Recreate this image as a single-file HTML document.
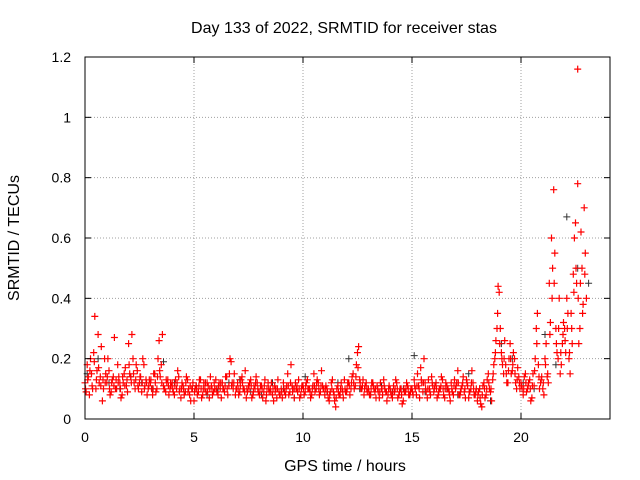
<!DOCTYPE html>
<html><head><meta charset="utf-8"><style>
body{margin:0;background:#fff}
svg{display:block;font-family:"Liberation Sans",sans-serif}
</style></head><body>
<svg id="c" width="640" height="480" viewBox="0 0 640 480">
<rect width="640" height="480" fill="#fff"/>
<g id="grid"></g>
<g id="black"></g>
<g id="red"></g>
<g id="axes"></g>
<text x="344" y="33" text-anchor="middle" font-size="16">Day 133 of 2022, SRMTID for receiver stas</text>
<text x="345" y="471" text-anchor="middle" font-size="16">GPS time / hours</text>
<text transform="translate(19,238) rotate(-90)" text-anchor="middle" font-size="16">SRMTID / TECUs</text>
</svg>
<script>
const xTicks=[0,5,10,15,20];
const yTicks=[0,0.2,0.4,0.6,0.8,1,1.2];
const yTickLabels=["0","0.2","0.4","0.6","0.8","1","1.2"];
const redA=[0.12,0.18,0.08,0.15,0.22,0.1,0.28,0.14,0.06,0.2,
0.12,0.16,0.09,0.14,0.1,0.18,0.12,0.08,0.15,0.11,
0.25,0.14,0.2,0.1,0.16,0.12,0.09,0.18,0.13,0.1,
0.12,0.08,0.15,0.1,0.26,0.18,0.11,0.09,0.13,0.1,
0.12,0.08,0.1,0.14,0.07,0.11,0.09,0.13,0.08,0.1,
0.06,0.11,0.09,0.13,0.08,0.1,0.12,0.07,0.11,0.09,
0.13,0.08,0.1,0.12,0.09,0.14,0.11,0.19,0.1,0.08,
0.12,0.09,0.14,0.1,0.07,0.11,0.13,0.08,0.1,0.12,
0.08,0.11,0.09,0.06,0.12,0.1,0.08,0.11,0.07,0.09,
0.1,0.12,0.08,0.15,0.09,0.11,0.07,0.1,0.13,0.08,
0.11,0.09,0.13,0.1,0.08,0.15,0.1,0.12,0.09,0.11,
0.08,0.1,0.06,0.12,0.09,0.04,0.11,0.08,0.1,0.13,
0.09,0.12,0.1,0.15,0.11,0.22,0.13,0.1,0.08,0.12,
0.1,0.08,0.12,0.09,0.11,0.07,0.1,0.13,0.09,0.08,
0.1,0.07,0.09,0.12,0.08,0.1,0.06,0.09,0.11,0.08,
0.1,0.13,0.08,0.11,0.17,0.09,0.12,0.07,0.1,0.14,
0.09,0.12,0.08,0.1,0.13,0.07,0.11,0.09,0.12,0.08,
0.1,0.16,0.08,0.11,0.09,0.13,0.07,0.1,0.12,0.08,
0.06,0.1,0.04,0.12,0.08,0.15,0.09,0.13,0.2,0.3,
0.42,0.22,0.15,0.18,0.12,0.25,0.16,0.2,0.1,0.14,
0.12,0.08,0.15,0.1,0.13,0.07,0.11,0.3,0.18,0.12,
0.1,0.2,0.14,0.45,0.6,0.76,0.3,0.2,0.15,0.25,
0.3,0.4,0.2,0.35,0.48,0.65,0.78,0.3,0.5,0.7,0.4];
const redB=[0.09,0.14,0.2,0.1,0.34,0.16,0.12,0.24,0.1,0.15,
0.2,0.08,0.13,0.27,0.1,0.14,0.07,0.12,0.17,0.09,
0.15,0.28,0.12,0.18,0.1,0.14,0.2,0.11,0.08,0.13,
0.1,0.15,0.09,0.2,0.14,0.28,0.1,0.12,0.08,0.11,
0.09,0.13,0.16,0.1,0.12,0.08,0.14,0.1,0.06,0.12,
0.1,0.08,0.13,0.07,0.12,0.09,0.11,0.14,0.08,0.1,
0.09,0.12,0.07,0.1,0.14,0.08,0.2,0.12,0.15,0.1,
0.08,0.13,0.1,0.16,0.09,0.12,0.07,0.11,0.14,0.09,
0.11,0.07,0.13,0.1,0.09,0.12,0.06,0.1,0.13,0.08,
0.07,0.09,0.11,0.08,0.18,0.1,0.12,0.09,0.07,0.11,
0.08,0.12,0.1,0.07,0.11,0.09,0.13,0.08,0.16,0.1,
0.11,0.07,0.09,0.13,0.06,0.1,0.08,0.12,0.07,0.09,
0.12,0.08,0.14,0.1,0.18,0.24,0.1,0.13,0.11,0.09,
0.08,0.12,0.1,0.07,0.09,0.12,0.08,0.1,0.06,0.11,
0.08,0.11,0.13,0.07,0.1,0.05,0.09,0.12,0.08,0.1,
0.08,0.1,0.15,0.07,0.12,0.2,0.09,0.13,0.08,0.11,
0.11,0.07,0.1,0.14,0.08,0.12,0.1,0.06,0.09,0.13,
0.12,0.08,0.1,0.14,0.07,0.11,0.09,0.16,0.08,0.1,
0.09,0.05,0.11,0.07,0.13,0.1,0.06,0.18,0.26,0.44,
0.3,0.18,0.26,0.12,0.2,0.15,0.22,0.12,0.17,0.1,
0.1,0.14,0.09,0.12,0.06,0.15,0.2,0.35,0.1,0.14,
0.08,0.25,0.12,0.32,0.5,0.55,0.22,0.4,0.18,0.32,
0.22,0.35,0.15,0.25,0.6,0.45,0.25,0.62,0.38,0.55];
const redC=[0.1,0.13,0.16,0.11,0.19,0.13,0.17,0.11,0.13,0.12,
0.14,0.1,0.12,0.11,0.13,0.12,0.1,0.14,0.11,0.13,
0.18,0.12,0.15,0.13,0.11,0.14,0.12,0.1,0.12,0.11,
0.13,0.1,0.12,0.14,0.16,0.12,0.1,0.13,0.11,0.12,
0.1,0.11,0.12,0.09,0.1,0.1,0.12,0.09,0.11,0.1,
0.09,0.1,0.11,0.1,0.1,0.12,0.09,0.1,0.1,0.12,
0.1,0.11,0.12,0.1,0.11,0.1,0.15,0.11,0.12,0.1,
0.1,0.11,0.12,0.09,0.1,0.1,0.11,0.09,0.12,0.1,
0.09,0.1,0.11,0.08,0.1,0.09,0.1,0.09,0.1,0.08,
0.09,0.1,0.1,0.11,0.12,0.09,0.1,0.11,0.1,0.1,
0.1,0.11,0.1,0.09,0.1,0.11,0.12,0.1,0.11,0.1,
0.1,0.09,0.08,0.1,0.08,0.07,0.09,0.1,0.09,0.1,
0.1,0.11,0.12,0.12,0.14,0.17,0.12,0.11,0.1,0.1,
0.09,0.1,0.11,0.1,0.1,0.09,0.1,0.11,0.09,0.1,
0.09,0.09,0.1,0.1,0.09,0.08,0.1,0.1,0.1,0.09,
0.09,0.11,0.11,0.1,0.13,0.12,0.1,0.1,0.09,0.12,
0.1,0.1,0.09,0.11,0.1,0.1,0.1,0.08,0.1,0.11,
0.11,0.12,0.09,0.12,0.1,0.12,0.09,0.12,0.1,0.09,
0.08,0.07,0.08,0.1,0.1,0.12,0.1,0.15,0.22,0.35,
0.25,0.2,0.2,0.15,0.16,0.2,0.18,0.15,0.13,0.12,
0.11,0.1,0.12,0.11,0.1,0.11,0.16,0.25,0.14,0.13,
0.12,0.18,0.15,0.28,0.4,0.45,0.25,0.3,0.22,0.28,
0.26,0.3,0.22,0.3,0.42,0.5,0.4,0.45,0.35,0.48];
const blackV=[0.15,0.2,0.12,0.1,0.14,0.12,0.1,0.19,0.12,0.09,0.11,0.08,0.1,0.12,0.13,0.09,0.08,0.12,0.1,0.07,0.14,0.1,0.09,0.12,0.2,0.1,0.08,0.11,0.09,0.1,0.21,0.09,0.12,0.1,0.08,0.15,0.1,0.06,0.25,0.2,0.12,0.1,0.28,0.18,0.67,0.5,0.45];
const outlier={t:22.6,v:1.16};

const X0=85,X1=610,Y0=419,Y1=57;
const xs=t=>X0+t*21.8;
const ys=v=>Y0-(v/1.2)*(Y0-Y1);
const NS="http://www.w3.org/2000/svg";
function mk(tag,at,parent){const e=document.createElementNS(NS,tag);for(const k in at)e.setAttribute(k,at[k]);parent.appendChild(e);return e;}
const grid=document.getElementById('grid'),axes=document.getElementById('axes');
xTicks.forEach(t=>{const x=xs(t);
 if(t>0){const g=mk('line',{x1:x,y1:Y0,x2:x,y2:Y1,stroke:'#a0a0a0','stroke-dasharray':'1,2'},grid);
 }
 mk('line',{x1:x,y1:Y0,x2:x,y2:Y0-6,stroke:'#000'},axes);
 mk('line',{x1:x,y1:Y1,x2:x,y2:Y1+6,stroke:'#000'},axes);
 const l=mk('text',{x:x,y:Y0+23,'text-anchor':'middle','font-size':'14'},axes);l.textContent=String(t);
 });
yTicks.forEach((v,i)=>{const y=ys(v);
 if(v>0){const g=mk('line',{x1:X0,y1:y,x2:X1,y2:y,stroke:'#a0a0a0','stroke-dasharray':'1,2'},grid);
 }
 mk('line',{x1:X0,y1:y,x2:X0+6,y2:y,stroke:'#000'},axes);
 mk('line',{x1:X1,y1:y,x2:X1-6,y2:y,stroke:'#000'},axes);
 const l=mk('text',{x:X0-14,y:y+5,'text-anchor':'end','font-size':'14'},axes);l.textContent=yTickLabels[i];
 });
mk('rect',{x:X0,y:Y1,width:X1-X0,height:Y0-Y1,fill:'none',stroke:'#000'},axes);
function plus(x,y){return `M${(x-3.5).toFixed(1)} ${y.toFixed(1)}h7M${x.toFixed(1)} ${(y-3.5).toFixed(1)}v7`;}
let dB='';blackV.forEach((v,i)=>{dB+=plus(xs(i*0.5+0.1),ys(v));});
const pb=mk('path',{d:dB,stroke:'#333','stroke-width':1,fill:'none'},document.getElementById('black'));

let dR='';
redA.forEach((v,i)=>{dR+=plus(xs(i*0.1),ys(v));});
redB.forEach((v,i)=>{dR+=plus(xs(i*0.1+0.05),ys(v));});
redC.forEach((v,i)=>{dR+=plus(xs(i*0.1+0.025),ys(v));});
dR+=plus(xs(outlier.t),ys(outlier.v));
const pr=mk('path',{d:dR,stroke:'#ff0000','stroke-width':1.2,fill:'none'},document.getElementById('red'));

</script>
</body></html>
